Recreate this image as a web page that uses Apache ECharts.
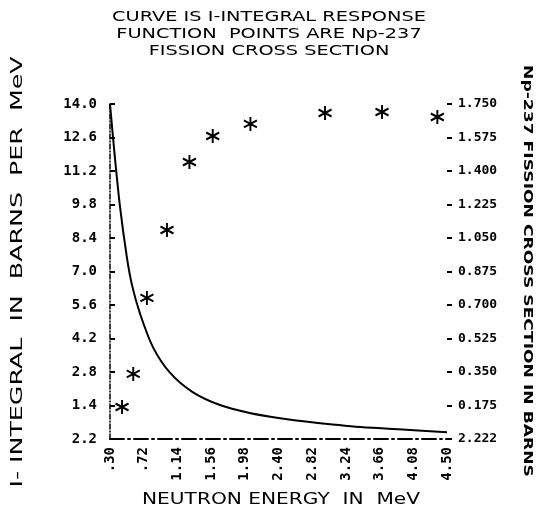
<!DOCTYPE html>
<html lang="en" style="height: 100%">
<head>
  <meta charset="utf-8">
</head>
<body style="height: 100%; margin: 0; background: #fff">
  <div id="container" style="width: 539px; height: 531px"></div>
  <script type="text/javascript" src="https://cdn.jsdelivr.net/npm/echarts@6/dist/echarts.min.js"></script>
  <script type="text/javascript">
    // I-integral response curve (left axis)
    const curveEnergy = [0.30, 0.36, 0.425, 0.51, 0.575, 0.675, 0.835, 1.05, 1.33, 1.67, 2.04, 2.42, 2.79, 3.42, 4.04, 4.50];
    const curveValue = [14.0, 11.8, 9.7, 7.6, 6.42, 5.23, 3.84, 2.76, 1.96, 1.42, 1.09, 0.87, 0.71, 0.50, 0.38, 0.28];
    // Np-237 fission cross section points (right axis, barns)
    const pointEnergy = [0.45, 0.59, 0.76, 1.01, 1.29, 1.58, 2.05, 2.98, 3.69, 4.38];
    const pointSigma = [0.167, 0.34, 0.737, 1.092, 1.447, 1.583, 1.646, 1.703, 1.708, 1.682];
    // tick labels
    const xTicks = [0.30, 0.72, 1.14, 1.56, 1.98, 2.40, 2.82, 3.24, 3.66, 4.08, 4.50];
    const leftTicks = [0, 1.4, 2.8, 4.2, 5.6, 7.0, 8.4, 9.8, 11.2, 12.6, 14.0];
    const rightTicks = [0, 0.175, 0.35, 0.525, 0.7, 0.875, 1.05, 1.225, 1.4, 1.575, 1.75];
    const titleLines = ['CURVE IS I-INTEGRAL RESPONSE', 'FUNCTION  POINTS ARE Np-237', 'FISSION CROSS SECTION'];

    const mono = 'DejaVu Sans Mono';
    const sans = 'DejaVu Sans';

    var dom = document.getElementById('container');
    var myChart = echarts.init(dom, null, { renderer: 'canvas' });

    const asterisk = 'path://M0,0L0,12M-5.2,3L5.2,9M-5.2,9L5.2,3';

    // wide plotter-style lettering
    function label(text, x, y, rot, sx, size, weight) {
      return {
        type: 'text',
        x: x,
        y: y,
        rotation: rot,
        scaleX: sx,
        style: {
          text: text,
          fontFamily: sans,
          fontSize: size,
          fontWeight: weight || 'normal',
          fill: '#000',
          align: 'center',
          verticalAlign: 'middle'
        }
      };
    }

    var graphics = titleLines.map(function (t, i) {
      return label(t, 269, 17 + i * 17, 0, 1.38, 14);
    });
    graphics.push(label('NEUTRON ENERGY  IN  MeV', 281, 500, 0, 1.26, 16));
    graphics.push(label('I- INTEGRAL  IN  BARNS  PER  MeV', 18, 272, Math.PI / 2, 1.58, 16));
    graphics.push(label('Np-237 FISSION CROSS SECTION IN BARNS', 527, 271, -Math.PI / 2, 1.43, 12, 'bold'));

    var option = {
      animation: false,
      backgroundColor: '#fff',
      graphic: graphics,
      grid: { left: 110, right: 92, top: 104, bottom: 92 },
      xAxis: {
        type: 'value',
        min: 0.3,
        max: 4.5,
        axisLine: { lineStyle: { color: '#000', width: 2, type: [14, 4, 2, 4] } },
        axisTick: { show: false },
        splitLine: { show: false },
        axisLabel: {
          customValues: xTicks,
          rotate: 90,
          margin: 8,
          fontFamily: mono,
          fontWeight: 'bold',
          fontSize: 14,
          color: '#000',
          formatter: function (v) {
            return v.toFixed(2).replace(/^0/, '');
          }
        }
      },
      yAxis: [
        {
          type: 'value',
          min: 0,
          max: 14,
          axisLine: { show: true, lineStyle: { color: '#000', width: 1.5, type: [5, 2, 1, 2] } },
          axisTick: { show: true, inside: true, length: 5, customValues: leftTicks, lineStyle: { color: '#000', width: 2 } },
          splitLine: { show: false },
          axisLabel: {
            customValues: leftTicks,
            margin: 13,
            fontFamily: mono,
            fontWeight: 'bold',
            fontSize: 14,
            color: '#000',
            formatter: function (v) {
              return v === 0 ? '2.2' : v.toFixed(1);
            }
          }
        },
        {
          type: 'value',
          min: 0,
          max: 1.75,
          position: 'right',
          axisLine: { show: false },
          axisTick: { show: true, length: 5, customValues: rightTicks, lineStyle: { color: '#000', width: 2 } },
          splitLine: { show: false },
          axisLabel: {
            customValues: rightTicks,
            margin: 11,
            fontFamily: mono,
            fontWeight: 'bold',
            fontSize: 13,
            color: '#000',
            formatter: function (v) {
              return v === 0 ? '2.222' : v.toFixed(3);
            }
          }
        }
      ],
      series: [
        {
          type: 'line',
          yAxisIndex: 0,
          smooth: 0.3,
          showSymbol: false,
          lineStyle: { color: '#000', width: 2 },
          data: curveEnergy.map(function (e, i) { return [e, curveValue[i]]; })
        },
        {
          type: 'scatter',
          yAxisIndex: 1,
          symbol: asterisk,
          symbolSize: [13, 14],
          itemStyle: { color: 'rgba(0,0,0,0)', borderColor: '#000', borderWidth: 2, opacity: 1 },
          data: pointEnergy.map(function (e, i) { return [e, pointSigma[i]]; })
        }
      ]
    };

    myChart.setOption(option);
    window.addEventListener('resize', myChart.resize);
  </script>
</body>
</html>
